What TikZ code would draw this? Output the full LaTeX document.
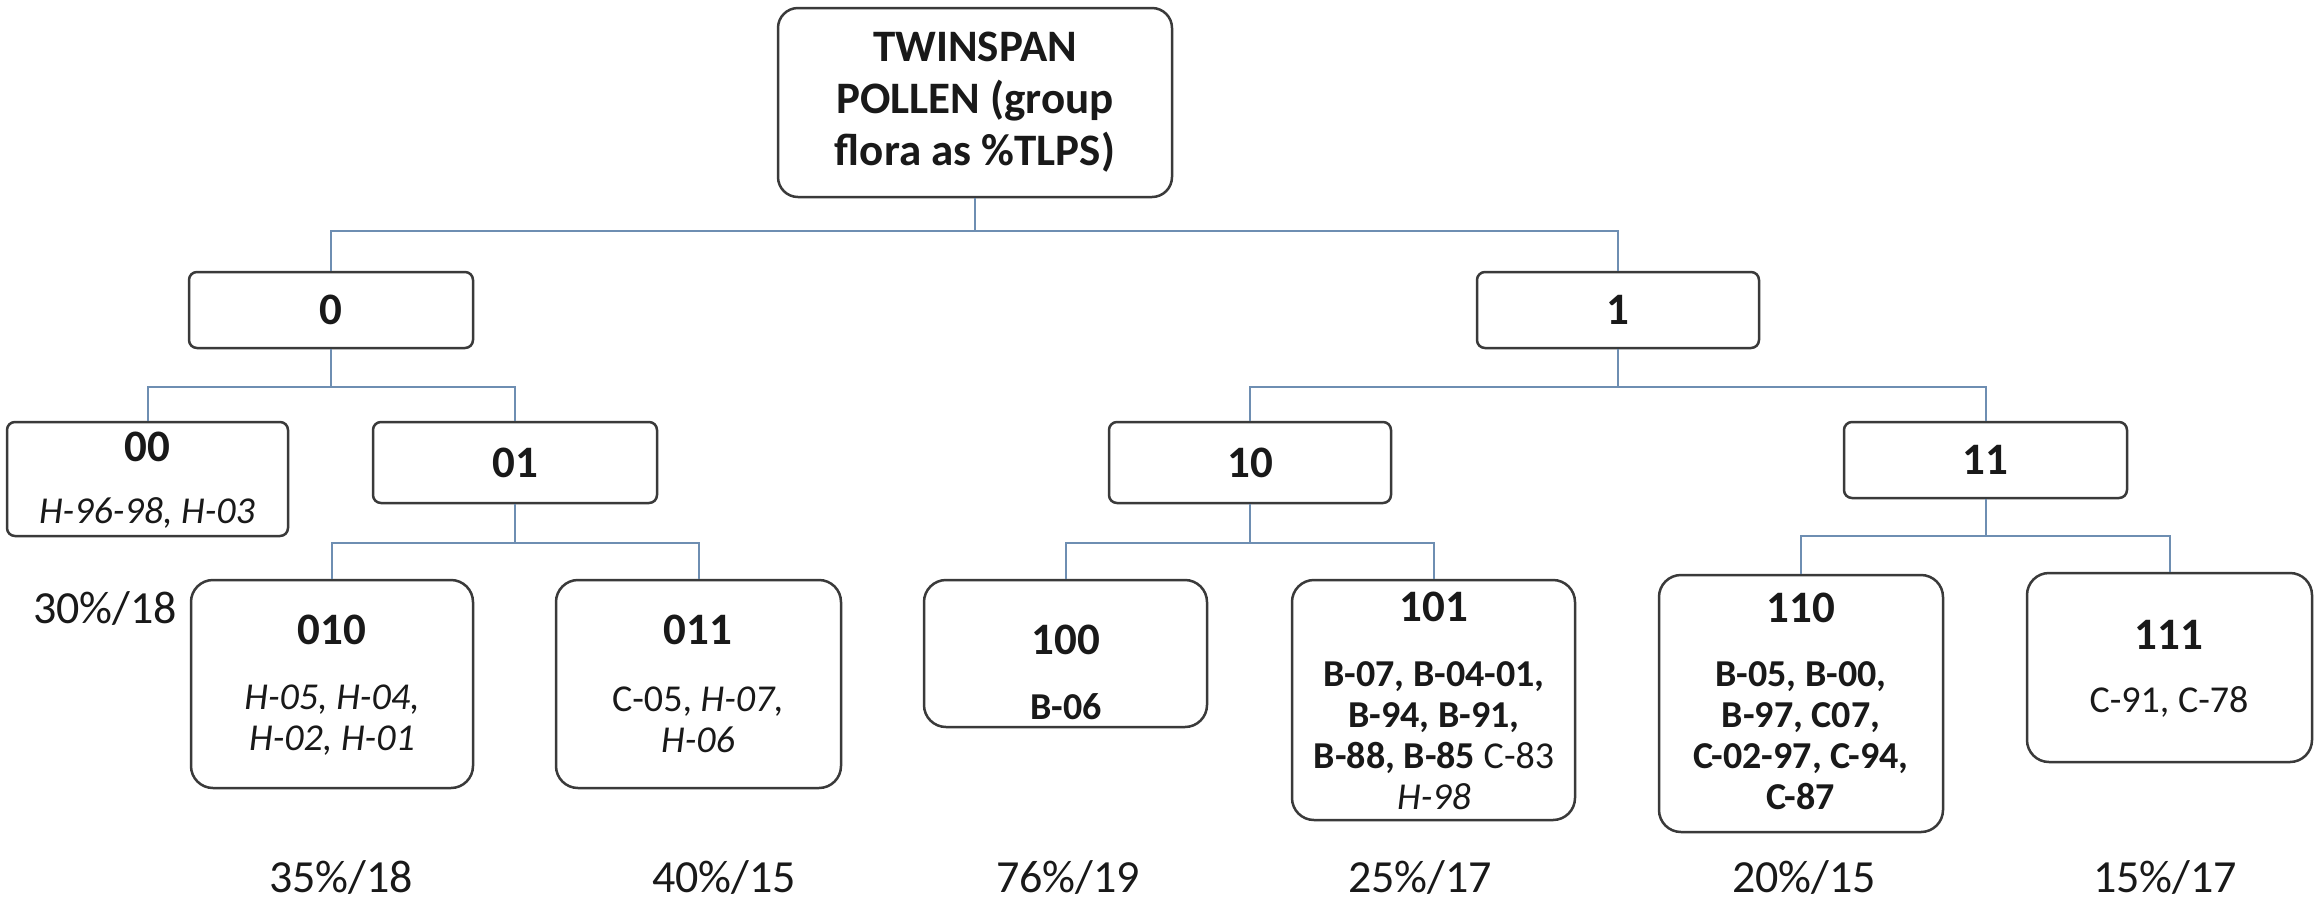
\documentclass[tikz,border=0pt]{standalone}
\usepackage{fontspec}
\setmainfont{Carlito}
\usetikzlibrary{fit}
\definecolor{lnk}{RGB}{110,142,178}
\definecolor{bord}{RGB}{58,58,58}
\definecolor{ink}{RGB}{25,25,25}
\begin{document}
\begin{tikzpicture}[x=0.5pt,y=-0.5pt,
  box/.style={draw=bord, line width=1.25pt, fill=white, inner sep=0pt},
  smallbox/.style={box, rounded corners=4pt},
  leafbox/.style={box, rounded corners=11pt},
  conn/.style={draw=lnk, line width=1pt},
  head/.style={font=\fontsize{22.5}{26}\selectfont\bfseries, inner sep=0pt, text=ink, align=center},
  body/.style={font=\fontsize{19}{20.5}\selectfont, inner sep=0pt, text=ink, align=center},
  pct/.style={font=\fontsize{23}{26}\selectfont, inner sep=0pt, text=ink}]
\useasboundingbox (0,0) rectangle (2315,902);
\fill[white] (0,0) rectangle (2315,902);

% boxes
\node[box, rounded corners=10pt, fit={(778,8) (1172,197)}] (root) {};
\node[smallbox, fit={(189,272) (473,348)}] (n0) {};
\node[smallbox, fit={(1477,272) (1759,348)}] (n1) {};
\node[smallbox, fit={(7,422) (288,536)}] (n00) {};
\node[smallbox, fit={(373,422) (657,503)}] (n01) {};
\node[smallbox, fit={(1109,422) (1391,503)}] (n10) {};
\node[smallbox, fit={(1844,422) (2127,498)}] (n11) {};
\node[leafbox, fit={(191,580) (473,788)}] (n010) {};
\node[leafbox, fit={(556,580) (841,788)}] (n011) {};
\node[leafbox, fit={(924,580) (1207,727)}] (n100) {};
\node[leafbox, fit={(1292,580) (1575,820)}] (n101) {};
\node[leafbox, fit={(1659,575) (1943,832)}] (n110) {};
\node[leafbox, fit={(2027,573) (2312,762)}] (n111) {};

% connectors
\draw[conn] (root.south) -- ++(0,33) coordinate (j0) -| (n0.north);
\draw[conn] (j0) -| (n1.north);
\draw[conn] (n0.south) -- ++(0,38) coordinate (j1) -| (n00.north);
\draw[conn] (j1) -| (n01.north);
\draw[conn] (n1.south) -- ++(0,38) coordinate (j2) -| (n10.north);
\draw[conn] (j2) -| (n11.north);
\draw[conn] (n01.south) -- ++(0,39) coordinate (j3) -| (n010.north);
\draw[conn] (j3) -| (n011.north);
\draw[conn] (n10.south) -- ++(0,39) coordinate (j4) -| (n100.north);
\draw[conn] (j4) -| (n101.north);
\draw[conn] (n11.south) -- ++(0,37) coordinate (j5) -| (n110.north);
\draw[conn] (j5) -| (n111.north);

% texts
\node[head] (troot) at (975,102) {TWINSPAN\\POLLEN (group\\flora as \%TLPS)};
\node[head] (t0) at (331,310) {0};
\node[head] (t1) at (1618,310) {1};
\node[head] (t00) at (147,447) {00};
\node[body] (b00) at (147,513) {\itshape H-96-98, H-03};
\node[head] (t01) at (515,463) {01};
\node[head] (t10) at (1250,463) {10};
\node[head] (t11) at (1985,460) {11};
\node[head] (t010) at (332,630) {010};
\node[body] (b010) at (332,720) {\itshape H-05, H-04,\\\itshape H-02, H-01};
\node[head] (t011) at (698,630) {011};
\node[body] (b011) at (698,720) {C-05, \textit{H-07,}\\\itshape H-06};
\node[head] (t100) at (1066,640) {100};
\node[body] (b100) at (1066,707) {\bfseries B-06};
\node[head] (t101) at (1434,607) {101};
\node[body] (b101) at (1434,736) {\textbf{B-07, B-04-01,}\\\textbf{B-94, B-91,}\\\textbf{B-88, B-85} C-83\\\textit{H-98}};
\node[head] (t110) at (1801,608) {110};
\node[body] (b110) at (1801,736) {\bfseries B-05, B-00,\\\bfseries B-97, C07,\\\bfseries C-02-97, C-94,\\\bfseries C-87};
\node[head] (t111) at (2169,635) {111};
\node[body] (b111) at (2169,702) {C-91, C-78};

% percentages
\node[pct] (p010a) at (105,608) {30\%/18};
\node[pct] (p010) at (341,877) {35\%/18};
\node[pct] (p011) at (724,877) {40\%/15};
\node[pct] (p100) at (1068,877) {76\%/19};
\node[pct] (p101) at (1420,877) {25\%/17};
\node[pct] (p110) at (1804,877) {20\%/15};
\node[pct] (p111) at (2165,877) {15\%/17};
\end{tikzpicture}
\end{document}
